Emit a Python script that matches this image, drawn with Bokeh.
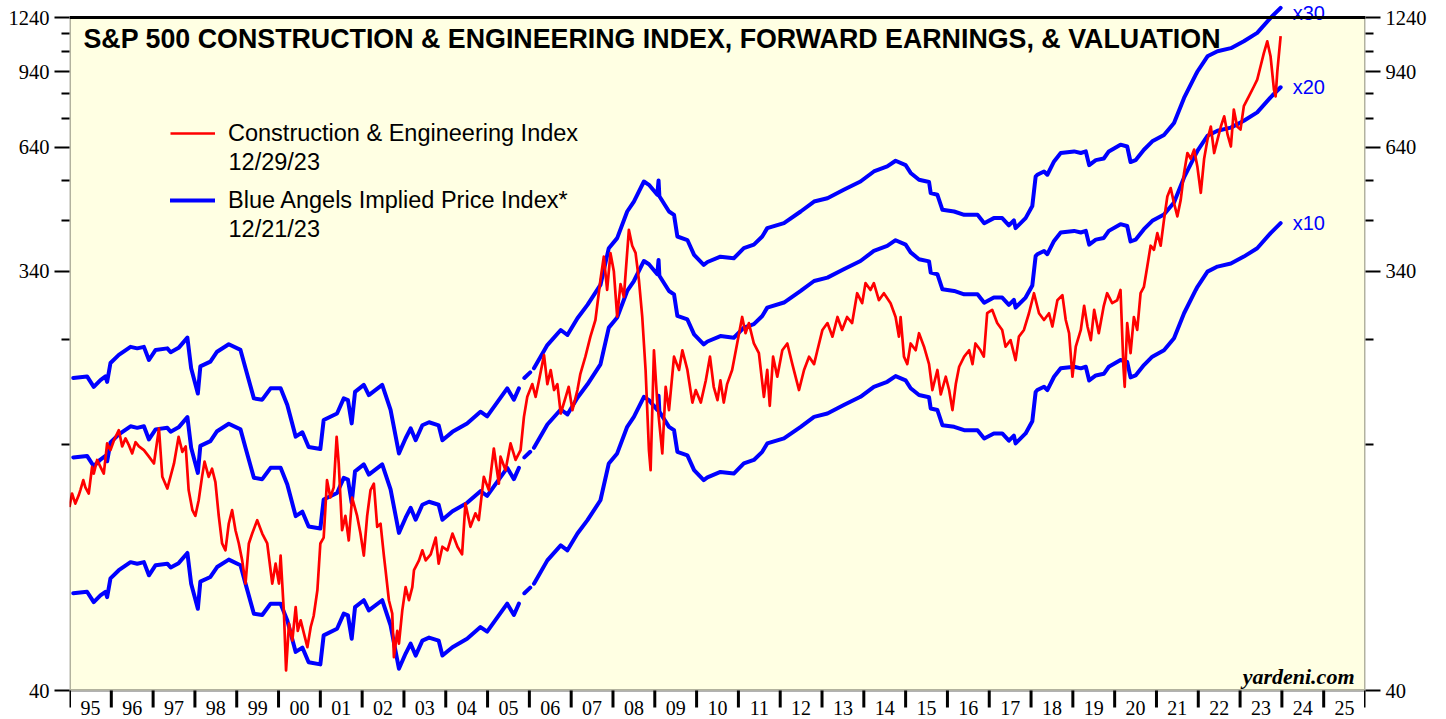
import math
import numpy as np
from bokeh.plotting import figure
from bokeh.models import (Range1d, LogAxis, FixedTicker, NumeralTickFormatter,
                          BoxAnnotation, Label, Legend, LegendItem, Span)
from bokeh.core.properties import value
from bokeh.embed import file_html
from bokeh.resources import INLINE

# ---------------- data ----------------
idx_year = [
    1995.00, 1995.06, 1995.14, 1995.22, 1995.26, 1995.33, 1995.38, 1995.46, 1995.54, 1995.58,
    1995.66, 1995.74, 1995.82, 1995.90, 1995.98, 1996.06, 1996.18, 1996.26, 1996.34, 1996.42,
    1996.50, 1996.58, 1996.66, 1996.78, 1996.90, 1997.02, 1997.14, 1997.22, 1997.34, 1997.50,
    1997.61, 1997.70, 1997.78, 1997.85, 1997.94, 1998.01, 1998.09, 1998.17, 1998.23, 1998.33,
    1998.41, 1998.49, 1998.57, 1998.65, 1998.73, 1998.81, 1998.89, 1998.97, 1999.05, 1999.13,
    1999.21, 1999.29, 1999.37, 1999.49, 1999.61, 1999.73, 1999.85, 1999.93, 2000.01, 2000.05,
    2000.13, 2000.18, 2000.25, 2000.33, 2000.41, 2000.46, 2000.53, 2000.61, 2000.69, 2000.77,
    2000.84, 2000.93, 2001.00, 2001.08, 2001.16, 2001.24, 2001.32, 2001.39, 2001.44, 2001.52,
    2001.60, 2001.68, 2001.76, 2001.88, 2001.96, 2002.04, 2002.12, 2002.20, 2002.28, 2002.36,
    2002.44, 2002.52, 2002.56, 2002.64, 2002.72, 2002.76, 2002.84, 2002.88, 2002.96, 2003.04,
    2003.12, 2003.20, 2003.24, 2003.36, 2003.44, 2003.52, 2003.64, 2003.76, 2003.83, 2003.92,
    2004.04, 2004.16, 2004.28, 2004.39, 2004.47, 2004.59, 2004.71, 2004.79, 2004.91, 2005.03,
    2005.15, 2005.27, 2005.31, 2005.43, 2005.55, 2005.67, 2005.79, 2005.87, 2005.95, 2006.07,
    2006.15, 2006.23, 2006.35, 2006.43, 2006.51, 2006.59, 2006.67, 2006.75, 2006.87, 2006.94,
    2007.03, 2007.15, 2007.22, 2007.34, 2007.46, 2007.58, 2007.70, 2007.78, 2007.86, 2007.94,
    2008.02, 2008.10, 2008.18, 2008.26, 2008.38, 2008.46, 2008.54, 2008.62, 2008.70, 2008.78,
    2008.86, 2008.90, 2008.98, 2009.06, 2009.18, 2009.26, 2009.34, 2009.46, 2009.58, 2009.66,
    2009.78, 2009.90, 2009.98, 2010.10, 2010.22, 2010.32, 2010.41, 2010.50, 2010.57, 2010.65,
    2010.73, 2010.85, 2010.97, 2011.09, 2011.17, 2011.25, 2011.37, 2011.49, 2011.61, 2011.69,
    2011.75, 2011.83, 2011.93, 2012.05, 2012.17, 2012.29, 2012.45, 2012.57, 2012.69, 2012.81,
    2012.89, 2013.01, 2013.13, 2013.25, 2013.37, 2013.48, 2013.60, 2013.72, 2013.84, 2013.96,
    2014.04, 2014.16, 2014.24, 2014.36, 2014.48, 2014.64, 2014.76, 2014.84, 2014.88, 2014.96,
    2015.04, 2015.12, 2015.24, 2015.32, 2015.44, 2015.56, 2015.64, 2015.76, 2015.84, 2015.96,
    2016.04, 2016.12, 2016.20, 2016.28, 2016.40, 2016.52, 2016.60, 2016.67, 2016.79, 2016.87,
    2016.95, 2017.07, 2017.19, 2017.31, 2017.39, 2017.51, 2017.63, 2017.71, 2017.83, 2017.95,
    2018.07, 2018.19, 2018.31, 2018.43, 2018.51, 2018.63, 2018.75, 2018.83, 2018.91, 2018.99,
    2019.07, 2019.19, 2019.27, 2019.35, 2019.43, 2019.51, 2019.62, 2019.74, 2019.82, 2019.94,
    2020.06, 2020.14, 2020.21, 2020.24, 2020.30, 2020.38, 2020.46, 2020.54, 2020.62, 2020.70,
    2020.78, 2020.86, 2020.94, 2021.02, 2021.10, 2021.18, 2021.26, 2021.34, 2021.42, 2021.50,
    2021.58, 2021.66, 2021.74, 2021.82, 2021.90, 2021.98, 2022.06, 2022.14, 2022.22, 2022.30,
    2022.38, 2022.46, 2022.54, 2022.62, 2022.70, 2022.78, 2022.85, 2022.93, 2023.01, 2023.09,
    2023.21, 2023.33, 2023.41, 2023.49, 2023.57, 2023.65, 2023.73, 2023.81, 2023.85, 2023.89,
    2023.97,
]
idx_value = [
    102, 109.3, 103.8, 108.3, 111.2, 117.0, 112.8, 109.3, 125.2, 121,
    129.7, 125.2, 121, 141.1, 136.4, 143.1, 151, 139, 144.8, 139.9,
    134.1, 142, 139, 136.4, 131.9, 127.4, 152.3, 119, 112.1, 127.4,
    146, 135.2, 139, 111.2, 100.4, 97.5, 105.6, 119, 128.6, 119,
    124, 115.8, 97.5, 84.7, 81.8, 93.8, 100.4, 90.6, 84.7, 77.7,
    69.0, 84.7, 89.1, 95.4, 89.1, 84.7, 69, 76.4, 69, 79.6,
    59.2, 44.3, 56.3, 51.6, 61.2, 54.2, 57.2, 53.4, 49.9, 55.3,
    58.5, 66.8, 84.7, 87.3, 117, 107.1, 112.8, 146, 127.4, 90.6,
    97.5, 86.0, 107.1, 97.5, 89.1, 79.6, 97.5, 111.2, 114.9, 92.2,
    93.7, 79.6, 73.9, 63.4, 59.2, 47.4, 54.2, 50.8, 60.2, 67.8,
    63.4, 67.8, 73.9, 77.7, 81.8, 77.7, 80.1, 87.3, 76.4, 83.3,
    81.8, 89.1, 83.3, 80.1, 103.8, 92.2, 98.8, 95.4, 119, 111.2,
    137.5, 114.9, 131.9, 123.1, 141.1, 129.7, 136.4, 161.6, 179, 191,
    179, 194.6, 221.6, 191, 205.2, 185.3, 191, 164.4, 179, 188.4,
    167.3, 185.3, 201.3, 219.7, 243.3, 264.9, 325, 366, 308.8, 372.6,
    339.8, 269.4, 318, 298, 419.6, 387, 373, 325, 269, 205,
    136.4, 123.1, 227, 173.8, 134.1, 188.4, 167.3, 219.7, 205.3, 227,
    205.3, 173.8, 185.3, 173.8, 194.6, 219.7, 188.4, 176, 194.6, 173.8,
    191, 205.3, 235, 269, 247.6, 260.8, 235, 223.6, 179, 205.3,
    171, 219.7, 198.3, 227, 235, 211.5, 185.3, 205.3, 219.7, 211.5,
    227, 251.8, 260.8, 243.3, 269, 251.8, 269, 260.8, 303.7, 288.6,
    319.7, 308.8, 319.7, 293, 303.7, 288.6, 269, 243.3, 269, 219.7,
    211.5, 235, 227, 247.6, 231.2, 211.5, 185.3, 205.3, 181.2, 198.3,
    185.3, 167.3, 191, 208.7, 219.7, 227, 211.5, 235, 227, 219.7,
    274.2, 279, 260.8, 251.8, 231.2, 239, 215.9, 243.3, 251.8, 274.2,
    303.7, 274.2, 264.9, 274.2, 256.2, 293, 300.8, 264.9, 247.6, 198.3,
    231.2, 251.8, 284.8, 256.2, 239, 279, 247.6, 284.8, 303.7, 288.6,
    293, 308.8, 208.7, 188.4, 260.8, 223.6, 269, 251.8, 303.7, 313.8,
    347.9, 387, 379, 412.6, 387, 441.7, 497.5, 519.3, 481, 449.6,
    489, 561, 621, 603, 632, 578, 507, 603, 665, 711,
    621, 665, 711, 749, 683, 642, 775, 711, 700, 789,
    829, 872, 903, 967, 1035, 1098, 1016, 858, 829, 939,
    1127,
]

# Blue Angels implied price index at a 10x forward P/E (nan = gap in the series)
NaN = float("nan")
earn_year = [
    1995.09, 1995.42, 1995.58, 1995.74, 1995.86, 1995.90, 1995.98, 1996.18, 1996.46, 1996.62,
    1996.78, 1996.90, 1997.06, 1997.34, 1997.42, 1997.61, 1997.82, 1997.91, 1998.07, 1998.13,
    1998.37, 1998.53, 1998.81, 1999.09, 1999.21, 1999.41, 1999.61, 1999.81, 2000.05, 2000.21,
    2000.41, 2000.57, 2000.72, 2001.00, 2001.08, 2001.40, 2001.56, 2001.66, 2001.75, 2001.83,
    2002.04, 2002.16, 2002.48, 2002.68, 2002.88, 2003.04, 2003.16, 2003.28, 2003.44, 2003.60,
    2003.83, 2003.92, 2004.16, 2004.51, 2004.83, 2004.99, 2005.47, 2005.63, 2005.75, 2005.80,
    2005.88, 2006.02, 2006.06, 2006.11,
    2006.43, 2006.75, 2006.91, 2007.15, 2007.39, 2007.70, 2007.90, 2008.10, 2008.34,
    2008.50, 2008.74, 2008.86, 2009.06, 2009.09, 2009.11, 2009.34, 2009.46, 2009.54, 2009.78,
    2009.94, 2010.17, 2010.26, 2010.57, 2010.89, 2011.13, 2011.37, 2011.57, 2011.69, 2012.09,
    2012.49, 2012.81, 2013.13, 2013.52, 2013.92, 2014.24, 2014.56, 2014.76, 2015.00, 2015.12,
    2015.32, 2015.56, 2015.60, 2015.76, 2015.88, 2016.16, 2016.40, 2016.72, 2016.88, 2017.11,
    2017.31, 2017.47, 2017.59, 2017.63, 2017.87, 2018.03, 2018.11, 2018.15, 2018.31, 2018.39,
    2018.55, 2018.71, 2019.03, 2019.19, 2019.31, 2019.39, 2019.55, 2019.74, 2019.86, 2020.14,
    2020.30, 2020.38, 2020.50, 2020.70, 2020.90, 2021.18, 2021.42, 2021.66, 2021.94, 2021.98,
    2022.22, 2022.46, 2022.78, 2023.09, 2023.41, 2023.73, 2023.97,
]
implied_10x = [
    65.7, 66.2, 62.8, 65.0, 66.2, 64.4, 70.9, 73.9, 77.0, 76.4,
    77.0, 72.0, 75.8, 76.4, 74.9, 76.6, 80.7, 69.0, 60.7, 69.7,
    71.4, 75.1, 78.0, 75.8, 69.0, 59.2, 58.8, 62.3, 62.3, 57.2,
    48.7, 49.8, 46.2, 45.7, 53.0, 54.8, 59.2, 58.7, 52.1, 61.2,
    63.4, 60.2, 63.4, 55.8, 44.7, 48.3, 50.8, 47.8, 51.6, 52.4,
    51.6, 47.8, 49.9, 52.1, 55.3, 54.0, 62.3, 58.8, 62.3, NaN,
    65.7, 67.6, NaN, 69.0,
    77.7, 83.9, 81.8, 89.1, 95.4, 105.6, 127.4, 134.1, 153.6,
    161.6, 179.0, 176, 167.3, 180, 166, 153.6, 151.0, 135.2, 132.8,
    123.1, 117.0, 118.7, 122.0, 121, 127.4, 129.7, 135.2, 141.1, 144.8,
    153.6, 161.6, 164.4, 171.6, 179, 188.4, 193.3, 199, 194.6, 187,
    180.6, 178.6, 168.7, 167.3, 154.9, 153.6, 151, 151, 144.7, 148.5,
    148.5, 143.1, 146.8, 141.1, 148.5, 158, 183.5, 185.3, 188.4, 185.3,
    198.3, 207, 208.7, 207, 208.7, 194.6, 199.6, 201.3, 208.7, 216,
    214, 197.7, 199.6, 210.5, 219.7, 227, 241.3, 274.2, 308.8, 313.8,
    339.1, 347.9, 353.5, 366.1, 382.1, 412.6, 434.3,
]
pe_multiples = [10, 20, 30]
pe_labels = ["x10", "x20", "x30"]

year_ticks = list(range(1995, 2027))
year_labels = ["95", "96", "97", "98", "99", "00", "01", "02", "03", "04", "05",
               "06", "07", "08", "09", "10", "11", "12", "13", "14", "15", "16",
               "17", "18", "19", "20", "21", "22", "23", "24", "25"]
y_ticks = [40, 340, 640, 940, 1240]
y_minor_ticks = [140, 240, 440, 540, 740, 840, 1040, 1140]

# ---------------- layout constants ----------------
BG = "#FFFFE3"
RED = "#FF0000"
BLUE = "#0000FF"
W, H = 1446, 719
FRAME_L, FRAME_R = 69, 1365          # px of plot box sides
PX_BOT, PX_TOP = 690, 17             # px of y=40 and y=1240
X0, X1 = 1995, 2026
Y_BOT, Y_TOP = 40, 1240
K = math.log(Y_TOP / Y_BOT) / (PX_BOT - PX_TOP)
XS = (X1 - X0) / (FRAME_R - FRAME_L)
y_start = Y_BOT * math.exp(-(H - PX_BOT) * K)
y_end = Y_TOP * math.exp(PX_TOP * K)


def dx(cx):
    return X0 + (cx - FRAME_L) * XS


def dy(cy):
    return Y_BOT * math.exp((PX_BOT - cy) * K)


p = figure(width=W, height=H, x_range=Range1d(X0, X1), y_range=Range1d(y_start, y_end),
           y_axis_type="log", x_axis_location=None, y_axis_location=None,
           output_backend="svg", toolbar_location=None,
           min_border_left=FRAME_L, min_border_right=W - FRAME_R,
           min_border_top=0, min_border_bottom=0)
p.background_fill_color = "white"
p.border_fill_color = "white"
p.outline_line_color = None
p.grid.visible = False

for side in ("left", "right"):
    ax = LogAxis(ticker=FixedTicker(ticks=y_ticks, minor_ticks=y_minor_ticks),
                 formatter=NumeralTickFormatter(format="0"))
    ax.axis_line_color = None
    ax.major_tick_out = 15
    ax.major_tick_in = 0
    ax.minor_tick_out = 8
    ax.minor_tick_in = 0
    ax.major_tick_line_width = 2
    ax.minor_tick_line_width = 2
    ax.major_tick_line_color = "black"
    ax.minor_tick_line_color = "black"
    ax.major_label_text_font = "Liberation Serif"
    ax.major_label_text_font_size = "20.5px"
    ax.major_label_text_color = "black"
    ax.major_label_standoff = 5
    p.add_layout(ax, side)

p.add_layout(BoxAnnotation(left=X0, right=X1, bottom=Y_BOT, top=Y_TOP,
                           fill_color=BG, fill_alpha=1, line_color=None, level="underlay"))

blue_renderers = []
for m in pe_multiples:
    r = p.line(earn_year, np.array(implied_10x) * m / 10, line_color=BLUE, line_width=4,
               line_join="round", line_cap="round")
    blue_renderers.append(r)
red_r = p.line(idx_year, idx_value, line_color=RED, line_width=2.7, line_join="round")

p.add_layout(BoxAnnotation(left=X0, right=X1, bottom=Y_BOT, top=Y_TOP,
                           fill_color=None, fill_alpha=0, line_color="black",
                           line_width=3, level="overlay"))
p.add_layout(Span(location=Y_TOP, dimension="width", line_color="black",
                  line_width=3, level="overlay"))

# x-axis ticks and year labels
n = len(year_ticks)
p.segment(x0=year_ticks, y0=[Y_BOT] * n, x1=year_ticks, y1=[dy(707)] * n,
          line_color="black", line_width=3)
p.text(x=[y + 0.5 for y in year_ticks[:-1]], y=[dy(707.5)] * len(year_labels), text=year_labels,
       text_font=value("Liberation Serif"), text_font_size="20px", text_color="black",
       text_align="center", text_baseline="middle")

# multiple labels at the end of the blue lines (kept inside the canvas top)
label_y = [min(implied_10x[-1] * m / 10, dy(12)) for m in pe_multiples]
p.text(x=[earn_year[-1] + 12 * XS] * 3, y=label_y,
       text=pe_labels, text_font=value("Liberation Sans"), text_font_size="20px",
       text_color=BLUE, text_align="left", text_baseline="middle")

# title
p.add_layout(Label(x=dx(83), y=dy(38),
                   text="S&P 500 CONSTRUCTION & ENGINEERING INDEX, FORWARD EARNINGS, & VALUATION",
                   text_font="Liberation Sans", text_font_style="bold", text_font_size="26.8px",
                   text_color="black", text_align="left", text_baseline="middle"))

# legend
legend = Legend(items=[LegendItem(label="Construction & Engineering Index", renderers=[red_r]),
                       LegendItem(label="Blue Angels Implied Price Index*", renderers=[blue_renderers[0]])],
                location=(101, 504), glyph_width=45, glyph_height=30, label_height=30,
                label_standoff=13, spacing=37, padding=0, margin=0,
                border_line_color=None, background_fill_alpha=0,
                label_text_font="Liberation Sans", label_text_font_size="23.5px",
                label_text_color="black", label_text_baseline="middle")
p.add_layout(legend)
for txt, cy in (("12/29/23", 161), ("12/21/23", 228)):
    p.add_layout(Label(x=dx(228), y=dy(cy), text=txt, text_font="Liberation Sans",
                       text_font_size="23.5px", text_color="black",
                       text_align="left", text_baseline="middle"))

p.add_layout(Label(x=dx(1354), y=dy(676), text="yardeni.com", text_font="Liberation Serif",
                   text_font_style="bold italic", text_font_size="22px", text_color="black",
                   text_align="right", text_baseline="middle"))

open("out.html", "w").write(file_html(p, INLINE))
